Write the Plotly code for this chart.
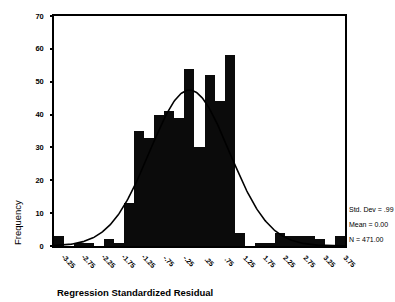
import numpy as np
import plotly.graph_objects as go

# ---- data ----
bin_centers = [-3.5, -3.25, -3.0, -2.75, -2.5, -2.25, -2.0, -1.75, -1.5, -1.25,
               -1.0, -0.75, -0.5, -0.25, 0.0, 0.25, 0.5, 0.75, 1.0, 1.25,
               1.5, 1.75, 2.0, 2.25, 2.5, 2.75, 3.0, 3.25, 3.5]
frequencies = [3, 0, 1, 1, 0, 2, 1, 13, 35, 33,
               40, 41, 39, 54, 30, 52, 44, 58, 4, 0,
               1, 1, 4, 3, 3, 3, 2, 0, 3]
x_tick_values = [-3.25, -2.75, -2.25, -1.75, -1.25, -0.75, -0.25, 0.25, 0.75,
                 1.25, 1.75, 2.25, 2.75, 3.25, 3.75]
x_tick_labels = ["-3.25", "-2.75", "-2.25", "-1.75", "-1.25", "-.75", "-.25", ".25", ".75",
                 "1.25", "1.75", "2.25", "2.75", "3.25", "3.75"]
y_tick_values = [0, 10, 20, 30, 40, 50, 60, 70]
stat_std = 0.99
stat_mean = 0.00
stat_n = 471
stat_labels = ["Std. Dev = .99", "Mean = 0.00", "N = 471.00"]

bin_width = 0.25
x_range = [-3.625, 3.625]
curve_shift = -0.25  # offset at which the normal curve was drawn in the original

FONT = "Liberation Sans, Arial, sans-serif"

xs = np.linspace(x_range[0], x_range[1], 300)
ys = stat_n * bin_width / (stat_std * np.sqrt(2 * np.pi)) * np.exp(
    -0.5 * ((xs - (stat_mean + curve_shift)) / stat_std) ** 2)

fig = go.Figure()
fig.add_trace(go.Bar(x=bin_centers, y=frequencies, width=bin_width,
                     marker=dict(color="#0b0b0b", line=dict(width=0)),
                     showlegend=False, hoverinfo="skip"))
fig.add_trace(go.Scatter(x=xs, y=ys, mode="lines",
                         line=dict(color="black", width=1.6),
                         showlegend=False, hoverinfo="skip"))


def to_paper(v):
    return (v - x_range[0]) / (x_range[1] - x_range[0])


annotations = []
for v, lab in zip(x_tick_values, x_tick_labels):
    annotations.append(dict(x=to_paper(v), xref="paper", y=0, yref="paper",
                            yshift=-15, text=lab, textangle=45, showarrow=False,
                            xanchor="center", yanchor="middle",
                            font=dict(family=FONT, size=7, color="black", weight="bold")))

stat_y = [0.159, 0.094, 0.030]
for txt, yy in zip(stat_labels, stat_y):
    annotations.append(dict(x=1.008, xref="paper", y=yy, yref="paper", text=txt,
                            showarrow=False, xanchor="left", yanchor="middle",
                            font=dict(family=FONT, size=7, color="black")))

annotations.append(dict(x=0.003, xref="paper", y=-0.2, yref="paper",
                        text="Regression Standardized Residual", showarrow=False,
                        xanchor="left", yanchor="middle",
                        font=dict(family=FONT, size=9.5, color="black", weight="bold")))
annotations.append(dict(x=-0.127, xref="paper", y=0.1, yref="paper",
                        text="Frequency", textangle=-90, showarrow=False,
                        xanchor="center", yanchor="middle",
                        font=dict(family=FONT, size=9.5, color="black")))

fig.update_layout(
    width=395, height=302,
    margin=dict(l=54, r=50, t=13, b=56),
    paper_bgcolor="white", plot_bgcolor="white",
    bargap=0,
    showlegend=False,
    annotations=annotations,
    xaxis=dict(range=x_range, showgrid=False, zeroline=False, showticklabels=False,
               ticks="", showline=True, linecolor="black", linewidth=1.5, mirror=True,
               fixedrange=True),
    yaxis=dict(range=[0, 70], tickvals=y_tick_values, showgrid=False, zeroline=False,
               ticks="outside", ticklen=2, tickwidth=1.5, tickcolor="black",
               showline=True, linecolor="black", linewidth=1.5, mirror=True,
               ticklabelstandoff=5,
               tickfont=dict(family=FONT, size=7.5, color="black", weight="bold"),
               fixedrange=True),
)

fig.write_html("out.html", config={"displayModeBar": False},
               post_script="document.body.style.margin='0';document.body.style.padding='0';")
